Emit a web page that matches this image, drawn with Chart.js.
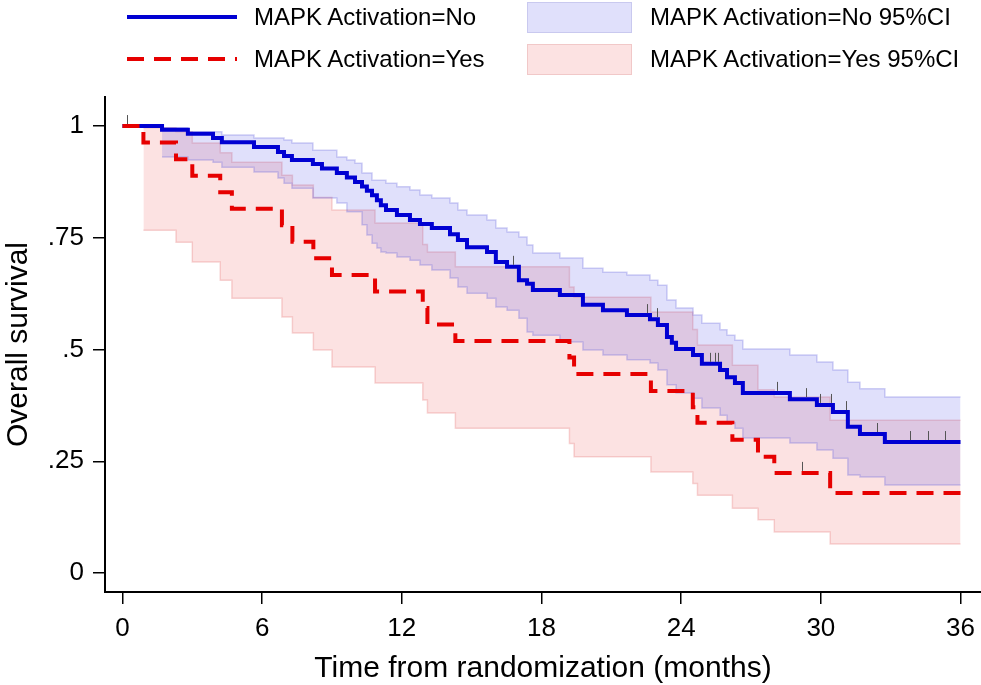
<!DOCTYPE html>
<html>
<head>
<meta charset="utf-8">
<title>Overall survival by MAPK activation</title>
<script src="https://cdn.jsdelivr.net/npm/chart.js@4.4.1/dist/chart.umd.min.js"></script>
<style>
  body { margin: 0; background: #fff; }
  #wrap { position: relative; width: 981px; height: 685px; }
  #km { position: absolute; left: 0; top: 0; }
  .lg { position: absolute; font: 24px "Liberation Sans", Arial, sans-serif; color: #000; white-space: nowrap; line-height: 28px; }
  .sw { position: absolute; width: 103px; height: 29px; }
</style>
</head>
<body>
<div id="wrap">
  <canvas id="km" width="981" height="685"></canvas>
  <svg style="position:absolute;left:0;top:0" width="260" height="80">
    <line x1="127" y1="17" x2="237" y2="17" stroke="#0000d2" stroke-width="4"/>
    <line x1="127" y1="59" x2="237" y2="59" stroke="#e60000" stroke-width="4" stroke-dasharray="17 10"/>
  </svg>
  <div class="lg" style="left:254px;top:3px">MAPK Activation=No</div>
  <div class="lg" style="left:254px;top:45px">MAPK Activation=Yes</div>
  <div class="sw" style="left:527px;top:2px;background:#e0e0fb;border:1px solid #c9c9ef"></div>
  <div class="sw" style="left:527px;top:44px;background:#fce2e2;border:1px solid #f1c8c8"></div>
  <div class="lg" style="left:650px;top:3px">MAPK Activation=No 95%CI</div>
  <div class="lg" style="left:650px;top:45px">MAPK Activation=Yes 95%CI</div>
</div>
<script>
// MAPK Activation = No : Kaplan-Meier estimate and 95% CI
const noTime = [0, 1.70, 2.81, 3.89, 4.27, 5.65, 6.68, 6.94, 7.28, 8.18, 8.57, 9.21, 9.64, 9.99, 10.29, 10.50, 10.72, 10.93, 11.10, 11.32, 11.79, 12.35, 12.78, 13.29, 14.07, 14.41, 14.80, 15.66, 16.04, 16.52, 17.03, 17.38, 17.63, 18.79, 19.78, 20.64, 21.67, 22.66, 23.00, 23.39, 23.60, 23.78, 24.51, 24.89, 25.67, 25.97, 26.31, 26.65, 28.67, 29.83, 30.52, 31.16, 31.68, 32.75, 36];
const noSurv = [1, .992, .983, .973, .964, .953, .942, .933, .924, .915, .905, .895, .885, .875, .865, .855, .845, .834, .823, .812, .801, .790, .781, .772, .758, .745, .729, .718, .696, .685, .655, .647, .633, .622, .600, .588, .577, .568, .555, .528, .515, .501, .488, .468, .454, .438, .425, .403, .389, .376, .360, .327, .311, .293, .293];
const noUpper = [null, .996, .987, .987, .980, .973, .973, .969, .962, .946, .946, .931, .924, .917, .895, .895, .879, .879, .879, .872, .864, .857, .846, .839, .828, .812, .801, .790, .772, .763, .752, .734, .716, .705, .682, .673, .667, .655, .644, .611, .611, .593, .577, .559, .544, .532, .521, .501, .488, .472, .454, .427, .412, .394, .394];
const noLower = [null, .931, .924, .919, .908, .897, .884, .872, .861, .839, .839, .828, .808, .808, .779, .756, .738, .727, .718, .716, .707, .700, .689, .678, .660, .640, .626, .615, .595, .588, .570, .539, .532, .517, .499, .488, .477, .470, .454, .421, .421, .403, .391, .369, .353, .336, .324, .302, .291, .275, .257, .219, .215, .197, .197];
const noCensor = [0.19, 16.77, 22.52, 22.96, 25.24, 25.46, 25.60, 28.11, 29.36, 29.96, 30.45, 31.08, 32.41, 33.82, 34.60, 35.33];

// MAPK Activation = Yes
const yesTime = [0, 0.9, 2.3, 3.0, 4.2, 4.7, 6.85, 7.3, 8.2, 9.0, 10.85, 12.9, 13.1, 14.3, 19.2, 19.4, 22.7, 24.5, 24.7, 26.2, 27.3, 28.0, 30.4, 36];
const yesSurv = [1, .963, .926, .889, .852, .815, .778, .741, .704, .667, .630, .593, .556, .519, .482, .445, .407, .371, .336, .298, .260, .224, .179, .179];
const yesUpper = [null, .996, .987, .962, .940, .919, .890, .868, .840, .812, .783, .735, .718, .685, .640, .617, .584, .545, .510, .465, .410, .394, .342, .342];
const yesLower = [null, .767, .740, .696, .655, .615, .573, .537, .499, .461, .425, .387, .358, .324, .290, .260, .226, .200, .174, .145, .119, .092, .065, .065];
const yesCensor = [29.19];

const xTicks = [0, 6, 12, 18, 24, 30, 36];
const yTicks = [0, 0.25, 0.5, 0.75, 1];

const fontFamily = '"Liberation Sans", Arial, sans-serif';

function pts(times, vals) {
  const out = [];
  times.forEach((t, i) => {
    if (vals[i] !== null) out.push({ x: t, y: vals[i] });
  });
  return out;
}

function stepLine(label, times, vals, color, dash) {
  return {
    label,
    data: pts(times, vals),
    stepped: true,
    borderColor: color,
    borderWidth: 4,
    borderDash: dash,
    borderCapStyle: 'butt',
    pointRadius: 0,
    fill: false
  };
}

function band(label, times, vals, edge, bg, fill) {
  return {
    label,
    data: pts(times, vals),
    stepped: true,
    borderColor: edge,
    borderWidth: 1.5,
    backgroundColor: bg,
    pointRadius: 0,
    fill
  };
}

// Censoring marks: short vertical ticks sitting on top of each curve
const censorGroups = [
  { times: noCensor, time: noTime, surv: noSurv },
  { times: yesCensor, time: yesTime, surv: yesSurv }
];

const censorTicks = {
  id: 'censorTicks',
  afterDatasetsDraw(chart) {
    const { ctx, scales: { x, y } } = chart;
    ctx.save();
    ctx.strokeStyle = '#555';
    ctx.lineWidth = 1;
    for (const g of censorGroups) {
      for (const t of g.times) {
        let s = g.surv[0];
        for (let i = 0; i < g.time.length; i++) {
          if (g.time[i] <= t) s = g.surv[i];
        }
        const px = Math.round(x.getPixelForValue(t)) + 0.5;
        const py = y.getPixelForValue(s);
        ctx.beginPath();
        ctx.moveTo(px, py - 2);
        ctx.lineTo(px, py - 11);
        ctx.stroke();
      }
    }
    ctx.restore();
  }
};

new Chart(document.getElementById('km'), {
  type: 'line',
  data: {
    datasets: [
      stepLine('MAPK Activation=Yes', yesTime, yesSurv, '#e60000', [17, 10]),
      stepLine('MAPK Activation=No', noTime, noSurv, '#0000d2', []),
      band('MAPK Activation=No 95%CI upper', noTime, noUpper, 'rgba(90,90,220,0.28)', 'rgba(60,60,230,0.16)', '+1'),
      band('MAPK Activation=No 95%CI lower', noTime, noLower, 'rgba(90,90,220,0.28)', 'transparent', false),
      band('MAPK Activation=Yes 95%CI upper', yesTime, yesUpper, 'rgba(225,110,110,0.28)', 'rgba(235,50,50,0.14)', '+1'),
      band('MAPK Activation=Yes 95%CI lower', yesTime, yesLower, 'rgba(225,110,110,0.28)', 'transparent', false)
    ]
  },
  options: {
    responsive: false,
    animation: false,
    layout: { padding: { top: 97, left: 0, right: 0, bottom: 0 } },
    plugins: {
      legend: { display: false },
      tooltip: { enabled: false }
    },
    scales: {
      x: {
        type: 'linear',
        min: -0.75,
        max: 36.88,
        afterBuildTicks: (scale) => { scale.ticks = xTicks.map(v => ({ value: v })); },
        afterFit: (scale) => {
          scale.height = 93;
          scale.paddingLeft = 0;
          scale.paddingRight = 0;
        },
        ticks: {
          color: '#000',
          padding: 9,
          maxRotation: 0,
          font: { family: fontFamily, size: 26 },
          callback: (v) => String(v)
        },
        grid: { drawOnChartArea: false, drawTicks: true, tickLength: 12, color: '#000', lineWidth: 1.5 },
        border: { display: true, color: '#000', width: 2 },
        title: {
          display: true,
          text: 'Time from randomization (months)',
          color: '#000',
          font: { family: fontFamily, size: 30 },
          padding: { top: 0, bottom: -2 }
        }
      },
      y: {
        type: 'linear',
        min: -0.0425,
        max: 1.065,
        afterBuildTicks: (scale) => { scale.ticks = yTicks.map(v => ({ value: v })); },
        afterFit: (scale) => { scale.width = 105; },
        ticks: {
          color: '#000',
          padding: 9,
          font: { family: fontFamily, size: 26 },
          callback: (v) => (v === 0 || v === 1) ? String(v) : String(v).replace(/^0/, '')
        },
        grid: { drawOnChartArea: false, drawTicks: true, tickLength: 12, color: '#000', lineWidth: 1.5 },
        border: { display: true, color: '#000', width: 2 },
        title: {
          display: true,
          text: 'Overall survival',
          color: '#000',
          font: { family: fontFamily, size: 30 },
          padding: { top: 1, bottom: 0 }
        }
      }
    }
  },
  plugins: [censorTicks]
});
</script>
</body>
</html>
